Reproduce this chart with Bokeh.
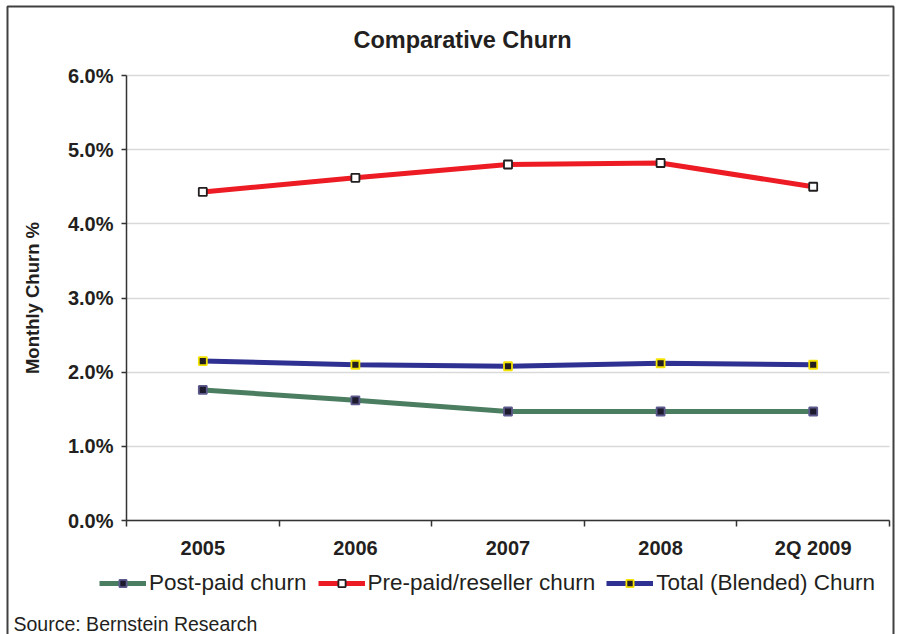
import numpy as np
from bokeh.plotting import figure
from bokeh.models import (Range1d, FixedTicker, NumeralTickFormatter, Legend, LegendItem,
                          Label, BoxAnnotation)
from bokeh.embed import file_html
from bokeh.resources import INLINE

# ---- data ----
categories = ["2005", "2006", "2007", "2008", "2Q 2009"]
postpaid = [0.0176, 0.0162, 0.0147, 0.0147, 0.0147]
prepaid = [0.0443, 0.0462, 0.0480, 0.0482, 0.0450]
blended = [0.0215, 0.0210, 0.0208, 0.0212, 0.0210]
series_names = ["Post-paid churn", "Pre-paid/reseller churn", "Total (Blended) Churn"]
y_ticks = [0.0, 0.01, 0.02, 0.03, 0.04, 0.05, 0.06]

FONT = "Liberation Sans"
TXT = "#231f20"

# ---- layout (pixels on the canvas) ----
W, H = 900, 634
PL, PR, PT, PB = 126, 889, 75, 520      # plotting area edges
ncat = len(categories)
ymax = y_ticks[-1]
xs = (PR - PL) / ncat
ys = (PB - PT) / ymax
x_range = Range1d(-PL / xs, (W - PL) / xs)
y_range = Range1d(-(H - PB) / ys, ymax + PT / ys)

x = (np.arange(ncat) + 0.5).tolist()

p = figure(width=W, height=H, output_backend="svg", toolbar_location=None,
           x_range=x_range, y_range=y_range,
           min_border_left=0, min_border_right=0, min_border_top=0, min_border_bottom=0)
p.outline_line_color = None
p.background_fill_color = "white"
p.border_fill_color = "white"

# x axis: labels at centers, ticks at boundaries (minor ticks)
p.xaxis.fixed_location = 0
p.xaxis.bounds = (0, ncat)
p.xaxis.ticker = FixedTicker(ticks=x, minor_ticks=list(range(ncat + 1)))
p.xaxis.major_label_overrides = {xi: c for xi, c in zip(x, categories)}
p.xaxis.major_tick_out = 0
p.xaxis.major_tick_in = 0
p.xaxis.minor_tick_out = 6
p.xaxis.minor_tick_in = 0
p.xaxis.minor_tick_line_color = "#333333"
p.xaxis.minor_tick_line_width = 1.5
p.xaxis.axis_line_color = "#333333"
p.xaxis.axis_line_width = 1.5
p.xaxis.major_label_text_font = FONT
p.xaxis.major_label_text_font_style = "bold"
p.xaxis.major_label_text_font_size = "20px"
p.xaxis.major_label_text_color = TXT
p.xaxis.major_label_standoff = 10
p.xgrid.grid_line_color = None

# y axis
p.yaxis.fixed_location = 0
p.yaxis.bounds = (0, ymax)
p.yaxis.ticker = FixedTicker(ticks=y_ticks, minor_ticks=[])
p.yaxis.formatter = NumeralTickFormatter(format="0.0%")
p.yaxis.major_tick_out = 5
p.yaxis.major_tick_in = 0
p.yaxis.major_tick_line_color = "#333333"
p.yaxis.major_tick_line_width = 1.5
p.yaxis.axis_line_color = "#333333"
p.yaxis.axis_line_width = 1.5
p.yaxis.major_label_text_font = FONT
p.yaxis.major_label_text_font_style = "bold"
p.yaxis.major_label_text_font_size = "20px"
p.yaxis.major_label_text_color = TXT
p.yaxis.major_label_standoff = 8
p.yaxis.axis_label = "Monthly Churn %"
p.yaxis.axis_label_text_font = FONT
p.yaxis.axis_label_text_font_style = "bold"
p.yaxis.axis_label_text_font_size = "18.5px"
p.yaxis.axis_label_text_color = TXT
p.yaxis.axis_label_standoff = 22
p.ygrid.grid_line_color = "#d9d9d9"
p.ygrid.grid_line_width = 1.5
p.ygrid.bounds = (0, ymax)
p.ygrid.cross_bounds = (0, ncat)

# series
line_colors = ["#4b7d60", "#ed1c24", "#2e3192"]
mk_fill = ["#1e1a2e", "white", "#231f20"]
mk_line = ["#5c5a8c", "#231f20", "#f5e400"]
items = []
for name, yv, lc, mf, ml in zip(series_names, [postpaid, prepaid, blended], line_colors, mk_fill, mk_line):
    r1 = p.line(x, yv, line_color=lc, line_width=5)
    r2 = p.scatter(x, yv, marker="square", size=8, fill_color=mf, line_color=ml, line_width=1.8)
    items.append(LegendItem(label=name, renderers=[r1, r2]))

legend = Legend(items=items, orientation="horizontal", location=(99, H - 596),
                glyph_width=47, glyph_height=18, label_standoff=3, spacing=11,
                padding=0, margin=0, border_line_color=None, background_fill_alpha=0,
                label_text_font=FONT, label_text_font_size="22.5px", label_text_color=TXT)
p.add_layout(legend, "center")

# title and source
p.add_layout(Label(x=462, y=39, x_units="canvas", y_units="canvas", text="Comparative Churn",
                   text_align="center", text_baseline="alphabetic", text_font=FONT,
                   text_font_style="bold", text_font_size="23.5px", text_color=TXT))
p.add_layout(Label(x=13, y=623, x_units="canvas", y_units="canvas", text="Source: Bernstein Research",
                   text_align="left", text_baseline="alphabetic", text_font=FONT,
                   text_font_size="19.5px", text_color=TXT))

# outer border
p.add_layout(BoxAnnotation(left=7, right=893, top=6, bottom=700, left_units="canvas",
                           right_units="canvas", top_units="canvas", bottom_units="canvas",
                           fill_alpha=0, line_color="#404040", line_alpha=1, line_width=2))

open("out.html", "w").write(file_html(p, INLINE))
